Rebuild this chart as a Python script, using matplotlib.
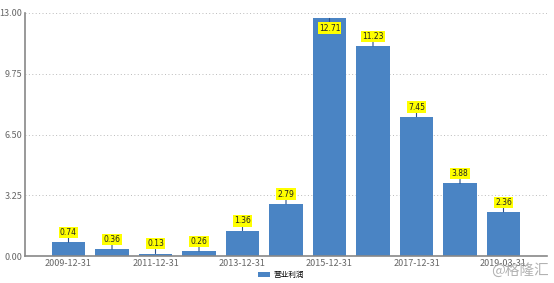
import numpy as np
import matplotlib.pyplot as plt

plt.rcParams['font.family'] = ['Noto Sans CJK SC', 'DejaVu Sans']

dates = ['2009-12-31', '2010-12-31', '2011-12-31', '2012-12-31', '2013-12-31',
         '2014-12-31', '2015-12-31', '2016-12-31', '2017-12-31', '2018-12-31',
         '2019-03-31']
profit = [0.74, 0.36, 0.13, 0.26, 1.36, 2.79, 12.71, 11.23, 7.45, 3.88, 2.36]
y_ticks = [0, 3.25, 6.5, 9.75, 13]

bar_color = '#4a84c4'

fig = plt.figure(figsize=(5.54, 2.83), dpi=100)
ax = fig.add_axes([25 / 554, 27 / 283, 522 / 554, 243 / 283])

x = np.arange(len(dates))
ax.bar(x, profit, width=0.76, color=bar_color, label='营业利润', zorder=2)

# value labels with little pins (kept inside the plot when too tall)
for xi, v in zip(x, profit):
    off = 7 if v < 12 else -7
    ax.annotate(f'{v:.2f}', xy=(xi, v), xytext=(0, off), textcoords='offset points',
                ha='center', va='center', fontsize=5.5, color='#222222',
                family='DejaVu Sans',
                bbox=dict(boxstyle='square,pad=0.15', fc='#ffff00', ec='none'),
                arrowprops=dict(arrowstyle='-', color='#2a4f8a', lw=0.8,
                                shrinkA=0, shrinkB=0),
                zorder=3)

ax.set_xlim(-1, 11)
ax.set_ylim(0, 13)
ax.set_xticks(x[::2])
ax.set_xticklabels(dates[::2])
ax.set_yticks(y_ticks)
ax.set_yticklabels([f'{t:.2f}' for t in y_ticks])
ax.tick_params(axis='both', labelsize=6.5, colors='#666666', length=0, pad=2)

ax.grid(axis='y', linestyle=(0, (1, 2.5)), color='#bbbbbb', lw=0.7, zorder=0)
for s in ['top', 'right']:
    ax.spines[s].set_visible(False)
for s in ['left', 'bottom']:
    ax.spines[s].set_color('#888888')
    ax.spines[s].set_linewidth(1.2)

fig.legend(loc='center', bbox_to_anchor=(281 / 554, 1 - 275 / 283), frameon=False,
           fontsize=5.5, handlelength=1.6, handleheight=0.7, handletextpad=0.4)

fig.text(520 / 554, 1 - 270 / 283, '@格隆汇', ha='center', va='center',
         fontsize=10.5, color='#999999', alpha=0.75)

fig.savefig('out.png', dpi=100)
